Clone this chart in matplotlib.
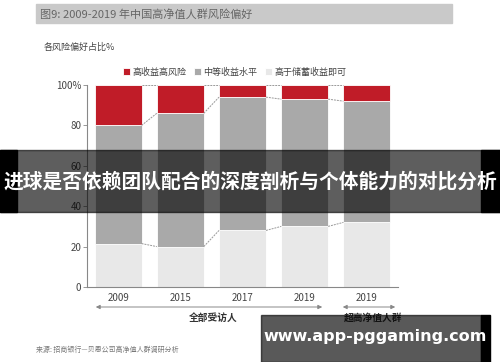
import numpy as np
import matplotlib
matplotlib.use("Agg")
import matplotlib.pyplot as plt
from matplotlib.patches import Rectangle, FancyArrowPatch

plt.rcParams['font.family'] = ['Noto Sans CJK SC', 'DejaVu Sans']

# 数据
年份 = ['2009', '2015', '2017', '2019', '2019']
储蓄 = [21.5, 20, 28, 30, 32]
中等 = [58.5, 66, 66, 63, 60]
高风险 = [20, 14, 6, 7, 8]
系列名 = ['高收益高风险', '中等收益水平', '高于储蓄收益即可']
颜色 = ['#c01c28', '#a9a9a9', '#e8e8e8']

W, H = 500, 362
fig = plt.figure(figsize=(W / 100, H / 100), dpi=100)

def fx(px):
    return px / W

def fy(py):
    return 1 - py / H

# 标题栏
fig.patches.append(Rectangle((fx(36), fy(23)), fx(452) - fx(36), fy(4) - fy(23),
                             transform=fig.transFigure, color='#c9c9c9', zorder=0))
fig.text(fx(40), fy(14), '图9: 2009-2019 年中国高净值人群风险偏好', fontsize=8,
         color='#666666', va='center', ha='left')
fig.text(fx(44), fy(47), '各风险偏好占比%', fontsize=6.5, color='#444444', va='center')

ax = fig.add_axes([fx(87), fy(287), fx(398) - fx(87), fy(85) - fy(287)])
x = np.arange(len(年份))
w = 0.755
底2 = np.array(储蓄) + np.array(中等)
b3 = ax.bar(x, 储蓄, w, color=颜色[2], edgecolor='white', linewidth=0.6, label=系列名[2])
b2 = ax.bar(x, 中等, w, bottom=储蓄, color=颜色[1], edgecolor='white', linewidth=0.6, label=系列名[1])
b1 = ax.bar(x, 高风险, w, bottom=底2, color=颜色[0], edgecolor='white', linewidth=0.6, label=系列名[0])

# 连接线
for lvl in [np.array(储蓄), 底2, 底2 + np.array(高风险)]:
    for i in range(len(x) - 1):
        ax.plot([x[i] + w / 2, x[i + 1] - w / 2], [lvl[i], lvl[i + 1]],
                color='#999999', lw=0.7, ls=(0, (2, 1)))

ax.set_xlim(-0.5, 4.5)
ax.set_ylim(0, 100)
ax.set_xticks(x)
ax.set_xticklabels(年份, fontsize=7, color='#444444')
ax.tick_params(axis='x', length=0, pad=4)
ax.set_yticks([0, 20, 40, 60, 80, 100])
ax.set_yticklabels(['0', '20', '40', '60', '80', '100%'], fontsize=7, color='#444444')
ax.tick_params(axis='y', length=3, width=0.6, color='#888888', pad=1)
for s in ['top', 'right']:
    ax.spines[s].set_visible(False)
for s in ['left', 'bottom']:
    ax.spines[s].set_color('#888888')
    ax.spines[s].set_linewidth(0.8)

fig.legend(handles=[b1, b2, b3], labels=系列名, loc='center left', ncol=3,
           bbox_to_anchor=(fx(118), fy(72)), frameon=False, fontsize=6.5,
           handlelength=0.8, handleheight=0.8, handletextpad=0.3, columnspacing=0.8,
           labelcolor='#444444', borderpad=0)

# 分组箭头
for x0, x1, lab in [(93, 325, '全部受访人'), (340, 398, '超高净值人群')]:
    fig.patches.append(FancyArrowPatch(
        (fx(x0), fy(307)), (fx(x1), fy(307)), transform=fig.transFigure,
        arrowstyle='<|-|>', mutation_scale=6, color='#888888', lw=0.7))
    fig.text(fx((x0 + x1) / 2 + 4), fy(318), lab, fontsize=7, color='#333333',
             ha='center', va='center', fontweight='bold')

fig.text(fx(36), fy(350), '来源: 招商银行—贝恩公司高净值人群调研分析', fontsize=5,
         color='#777777', va='center')

# 横幅
fig.patches.append(Rectangle((0, fy(212)), 1, fy(150) - fy(212), transform=fig.transFigure,
                             color='black', alpha=0.63, zorder=10))
for a, b in [(0, 17), (481, 500)]:
    fig.patches.append(Rectangle((fx(a), fy(212)), fx(b) - fx(a), fy(150) - fy(212),
                                 transform=fig.transFigure, color='black', zorder=11))
fig.text(0.5, fy(182), '进球是否依赖团队配合的深度剖析与个体能力的对比分析', fontsize=14.2,
         color='white', fontweight='bold', ha='center', va='center', zorder=12)

# 水印
fig.patches.append(Rectangle((fx(261), 0), fx(481) - fx(261), fy(315), transform=fig.transFigure,
                             color='black', alpha=0.65, zorder=10))
fig.patches.append(Rectangle((fx(481), 0), fx(490) - fx(481), fy(315), transform=fig.transFigure,
                             color='black', zorder=11))
fig.text(fx(375), fy(337), 'www.app-pggaming.com', fontsize=11.5, color='white',
         fontweight='bold', ha='center', va='center', zorder=12, family='DejaVu Sans')

fig.savefig('out.png', dpi=100)
